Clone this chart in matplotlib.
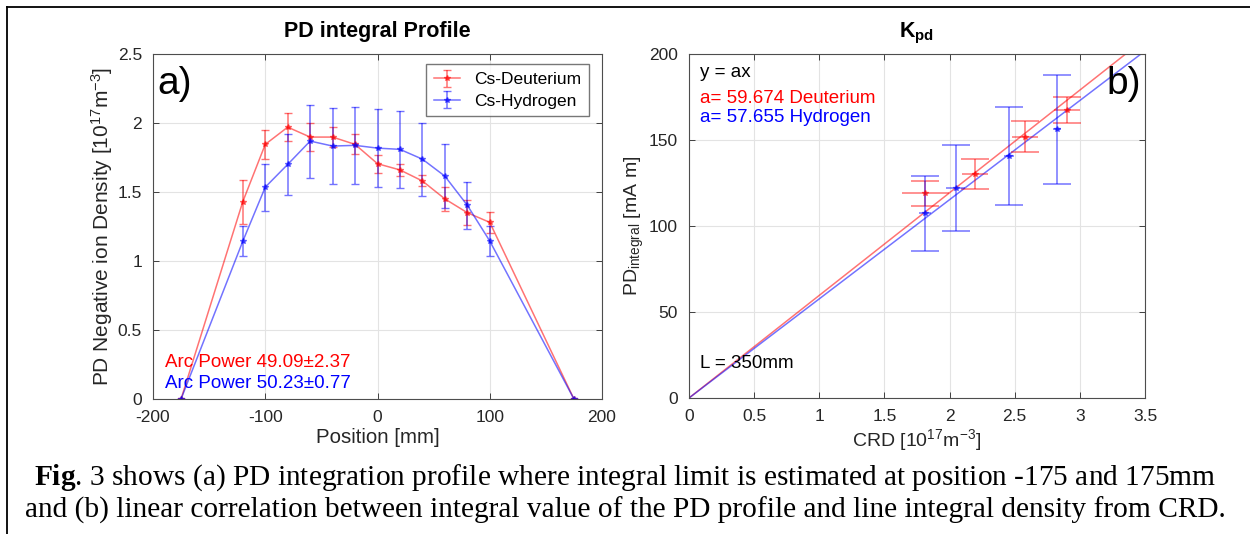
import numpy as np
import matplotlib.pyplot as plt
from matplotlib.lines import Line2D

plt.rcParams['font.family'] = ['Liberation Sans', 'DejaVu Sans']
plt.rcParams['axes.unicode_minus'] = False
plt.rcParams['mathtext.fontset'] = 'custom'
plt.rcParams['mathtext.rm'] = 'Liberation Sans'
plt.rcParams['mathtext.it'] = 'Liberation Sans:italic'
plt.rcParams['mathtext.sf'] = 'Liberation Sans:bold'
plt.rcParams['mathtext.bf'] = 'Liberation Serif:bold'

# Panel a) PD integral profile
position = [-175, -120, -100, -80, -60, -40, -20, 0, 20, 40, 60, 80, 100, 175]
deut_density = [0, 1.43, 1.845, 1.97, 1.898, 1.898, 1.845, 1.705, 1.66, 1.58, 1.45, 1.35, 1.28, 0]
deut_err = [0, 0.16, 0.105, 0.10, 0.10, 0.075, 0.073, 0.065, 0.046, 0.04, 0.086, 0.09, 0.075, 0]
hyd_density = [0, 1.143, 1.535, 1.70, 1.869, 1.833, 1.838, 1.818, 1.809, 1.738, 1.615, 1.404, 1.145, 0]
hyd_err = [0, 0.11, 0.17, 0.22, 0.265, 0.276, 0.28, 0.28, 0.28, 0.265, 0.23, 0.17, 0.11, 0]

# Panel b) K_pd correlation
crd_deut = [1.813, 2.197, 2.582, 2.903]
pd_deut = [119.0, 130.3, 152.0, 167.4]
pd_deut_err = [7.4, 8.9, 9.2, 7.7]
crd_deut_err = [0.18, 0.1, 0.1, 0.1]
crd_hyd = [1.81, 2.046, 2.454, 2.826]
pd_hyd = [107.4, 122.3, 140.7, 156.2]
pd_hyd_err = [21.9, 25.0, 28.6, 31.8]
crd_hyd_err = [0.045, 0.075, 0.04, 0.03]
slope_deut = 59.674
slope_hyd = 57.655

red = (1, 0, 0)
blue = (0, 0, 1)
tick_col = '#262626'

fig = plt.figure(figsize=(12.5, 5.34), dpi=100)


def style_axes(ax):
    ax.tick_params(direction='in', top=True, right=True, labelsize=12.5,
                   colors=tick_col, length=4, width=0.6, pad=8)
    for s in ax.spines.values():
        s.set_color('#4d4d4d')
        s.set_linewidth(0.8)
    ax.grid(True, color='#e3e3e3', linewidth=0.8)
    ax.set_axisbelow(True)


# ---- left panel ----
ax1 = fig.add_axes([153 / 1250, 1 - 399 / 534, 449 / 1250, 345 / 534])
style_axes(ax1)
ax1.errorbar(position, deut_density, yerr=deut_err, color=red, alpha=0.55,
             marker='*', markersize=4, linewidth=1.1, capsize=3, elinewidth=1.1,
             label='Cs-Deuterium')
ax1.errorbar(position, hyd_density, yerr=hyd_err, color=blue, alpha=0.55,
             marker='*', markersize=4, linewidth=1.1, capsize=3, elinewidth=1.1,
             label='Cs-Hydrogen')
ax1.set_xlim(-200, 200)
ax1.set_ylim(0, 2.5)
ax1.set_xticks([-200, -100, 0, 100, 200])
ax1.set_yticks([0, 0.5, 1, 1.5, 2, 2.5])
ax1.set_yticklabels(['0', '0.5', '1', '1.5', '2', '2.5'])
ax1.set_title('PD integral Profile', fontsize=15.5, fontweight='bold', pad=12)
ax1.set_xlabel('Position [mm]', fontsize=14.7, color=tick_col, labelpad=2)
ax1.set_ylabel('PD Negative ion Density [10$^{17}$m$^{-3}$]', fontsize=15,
               color=tick_col, labelpad=2)
leg = ax1.legend(loc='upper right', fontsize=12.5, frameon=True, fancybox=False,
                 edgecolor='#555555', borderpad=0.45, handlelength=1.5,
                 labelspacing=0.35, bbox_to_anchor=(0.99, 0.995))
leg.get_frame().set_linewidth(1.0)
ax1.text(0.01, 0.965, 'a)', transform=ax1.transAxes, fontsize=28,
         va='top', ha='left')
ax1.text(0.027, 0.107, 'Arc Power 49.09\u00b12.37', transform=ax1.transAxes,
         fontsize=13.5, color=red, va='center')
ax1.text(0.027, 0.046, 'Arc Power 50.23\u00b10.77', transform=ax1.transAxes,
         fontsize=13.5, color=blue, va='center')

# ---- right panel ----
ax2 = fig.add_axes([689 / 1250, 1 - 398 / 534, 456 / 1250, 344 / 534])
style_axes(ax2)
xfit = np.array([0, 3.5])
ax2.plot(xfit, slope_deut * xfit, color=red, alpha=0.55, linewidth=1.1)
ax2.plot(xfit, slope_hyd * xfit, color=blue, alpha=0.55, linewidth=1.1)
ax2.errorbar(crd_deut, pd_deut, yerr=pd_deut_err, fmt='*', color=red, alpha=0.55,
             markersize=4, capsize=10, elinewidth=1.1, capthick=1.1)
ax2.errorbar(crd_deut, pd_deut, xerr=crd_deut_err, fmt='none', ecolor=red,
             alpha=0.55, capsize=0, elinewidth=1.1)
ax2.errorbar(crd_hyd, pd_hyd, yerr=pd_hyd_err, fmt='*', color=blue, alpha=0.55,
             markersize=4, capsize=10, elinewidth=1.1, capthick=1.1)
ax2.errorbar(crd_hyd, pd_hyd, xerr=crd_hyd_err, fmt='none', ecolor=blue,
             alpha=0.55, capsize=0, elinewidth=1.1)
ax2.set_xlim(0, 3.5)
ax2.set_ylim(0, 200)
ax2.set_xticks([0, 0.5, 1, 1.5, 2, 2.5, 3, 3.5])
ax2.set_xticklabels(['0', '0.5', '1', '1.5', '2', '2.5', '3', '3.5'])
ax2.set_yticks([0, 50, 100, 150, 200])
ax2.set_title('K$_{\\mathsf{pd}}$', fontsize=15.5, fontweight='bold', pad=12)
ax2.set_xlabel('CRD [10$^{17}$m$^{-3}$]', fontsize=14, color=tick_col, labelpad=2)
ax2.set_ylabel('PD$_{\\mathrm{integral}}$ [mA m]', fontsize=14, color=tick_col,
               labelpad=2)
ax2.text(0.025, 0.945, 'y = ax', transform=ax2.transAxes, fontsize=13.5,
         color='black', va='center')
ax2.text(0.025, 0.87, 'a= 59.674 Deuterium', transform=ax2.transAxes,
         fontsize=13.5, color=red, va='center')
ax2.text(0.025, 0.815, 'a= 57.655 Hydrogen', transform=ax2.transAxes,
         fontsize=13.5, color=blue, va='center')
ax2.text(0.025, 0.1, 'L = 350mm', transform=ax2.transAxes, fontsize=13.5,
         color='black', va='center')
ax2.text(0.915, 0.965, 'b)', transform=ax2.transAxes, fontsize=28,
         va='top', ha='left')

# ---- caption ----
fig.text(0.5, 1 - 478 / 534,
         r'$\mathbf{Fig}$. 3 shows (a) PD integration profile where integral limit is estimated at position -175 and 175mm',
         ha='center', va='center', fontsize=21.2, family='Liberation Serif')
fig.text(0.5, 1 - 510 / 534,
         'and (b) linear correlation between integral value of the PD profile and line integral density from CRD.',
         ha='center', va='center', fontsize=21.2, family='Liberation Serif')

# frame lines (top and left)
fig.add_artist(Line2D([7 / 1250, 1], [1 - 7 / 534, 1 - 7 / 534], color='black',
                      linewidth=1.3, transform=fig.transFigure))
fig.add_artist(Line2D([7 / 1250, 7 / 1250], [0, 1 - 7 / 534], color='black',
                      linewidth=1.3, transform=fig.transFigure))

fig.savefig('out.png', dpi=100)
